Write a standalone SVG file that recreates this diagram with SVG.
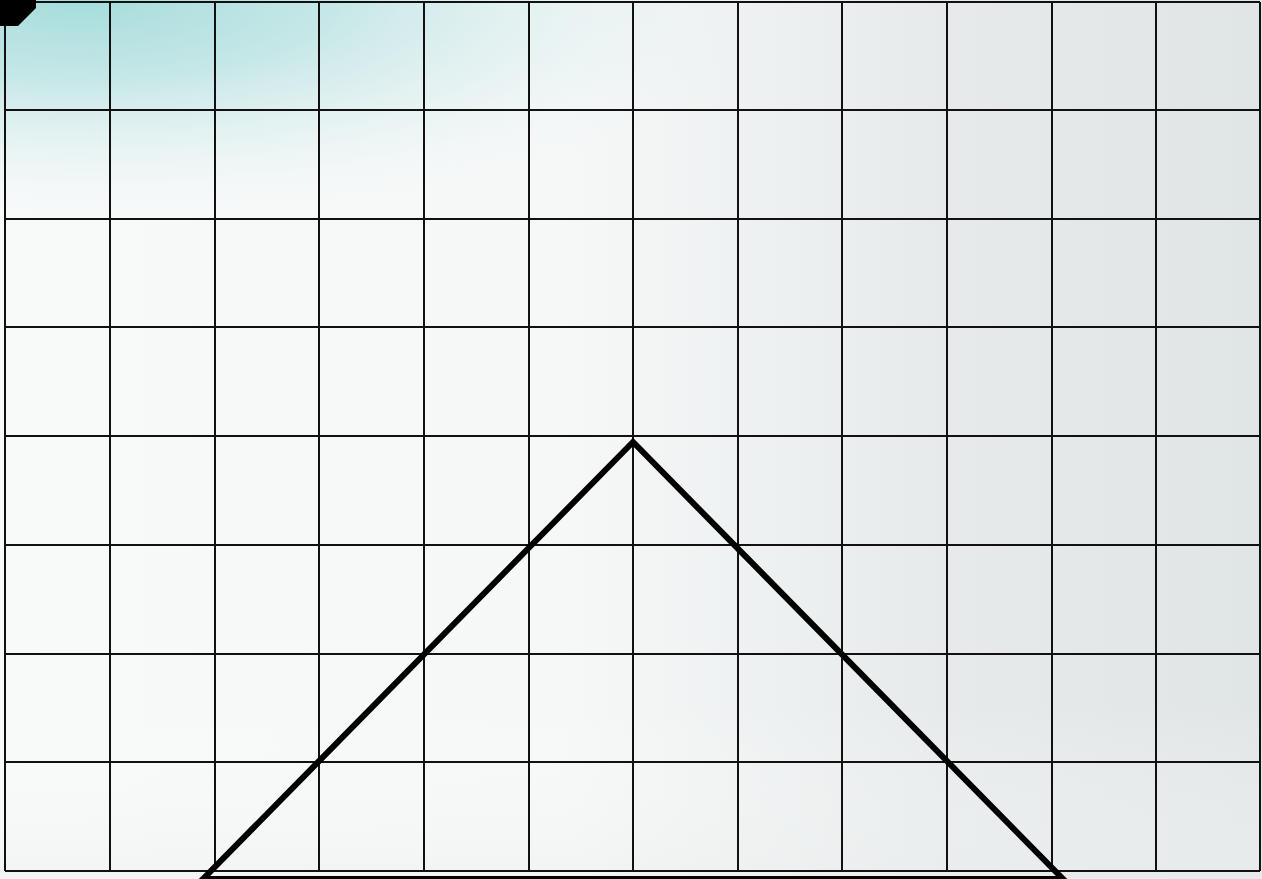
<svg xmlns="http://www.w3.org/2000/svg" width="1262" height="879" viewBox="0 0 1262 879">
  <defs>
    <linearGradient id="bgH" x1="0" y1="0" x2="1" y2="0">
      <stop offset="0" stop-color="#f8fafa"/>
      <stop offset="0.45" stop-color="#f6f8f8"/>
      <stop offset="0.75" stop-color="#e6eaea"/>
      <stop offset="1" stop-color="#e0e5e5"/>
    </linearGradient>
    <linearGradient id="bgV" x1="0" y1="0" x2="0" y2="1">
      <stop offset="0" stop-color="#ffffff" stop-opacity="0"/>
      <stop offset="0.8" stop-color="#ffffff" stop-opacity="0"/>
      <stop offset="1" stop-color="#eef0f0" stop-opacity="0.5"/>
    </linearGradient>
    <radialGradient id="teal" cx="0" cy="0" r="1" gradientUnits="userSpaceOnUse" gradientTransform="translate(80 0) scale(700 220)">
      <stop offset="0" stop-color="#a6dcdc"/>
      <stop offset="0.35" stop-color="#b8e2e2" stop-opacity="0.8"/>
      <stop offset="1" stop-color="#e8f2f2" stop-opacity="0"/>
    </radialGradient>
    <style>
      .grid line { stroke: #111; stroke-width: 2; }
      .tri { fill: none; stroke: #000; stroke-width: 6; stroke-linejoin: miter; }
    </style>
  </defs>
  <rect width="1262" height="879" fill="url(#bgH)"/>
  <rect width="1262" height="879" fill="url(#bgV)"/>
  <rect width="1262" height="879" fill="url(#teal)"/>
  <g id="grid" class="grid">
    <line x1="5" y1="2" x2="1260" y2="2"/>
    <line x1="5" y1="110" x2="1260" y2="110"/>
    <line x1="5" y1="219" x2="1260" y2="219"/>
    <line x1="5" y1="327" x2="1260" y2="327"/>
    <line x1="5" y1="436" x2="1260" y2="436"/>
    <line x1="5" y1="545" x2="1260" y2="545"/>
    <line x1="5" y1="654" x2="1260" y2="654"/>
    <line x1="5" y1="762" x2="1260" y2="762"/>
    <line x1="5" y1="871" x2="1260" y2="871"/>
    <line x1="5" y1="2" x2="5" y2="871"/>
    <line x1="110" y1="2" x2="110" y2="871"/>
    <line x1="215" y1="2" x2="215" y2="871"/>
    <line x1="319" y1="2" x2="319" y2="871"/>
    <line x1="424" y1="2" x2="424" y2="871"/>
    <line x1="529" y1="2" x2="529" y2="871"/>
    <line x1="633" y1="2" x2="633" y2="871"/>
    <line x1="738" y1="2" x2="738" y2="871"/>
    <line x1="842" y1="2" x2="842" y2="871"/>
    <line x1="947" y1="2" x2="947" y2="871"/>
    <line x1="1052" y1="2" x2="1052" y2="871"/>
    <line x1="1156" y1="2" x2="1156" y2="871"/>
    <line x1="1260" y1="2" x2="1260" y2="871"/>
  </g>
  <g id="corner">
    <polygon points="0,0 36,0 36,8 18,26 0,26" fill="#000"/>
  </g>
  <g id="triangle">
    <polygon class="tri" points="633,442 203,879 1063,879"/>
  </g>
</svg>
